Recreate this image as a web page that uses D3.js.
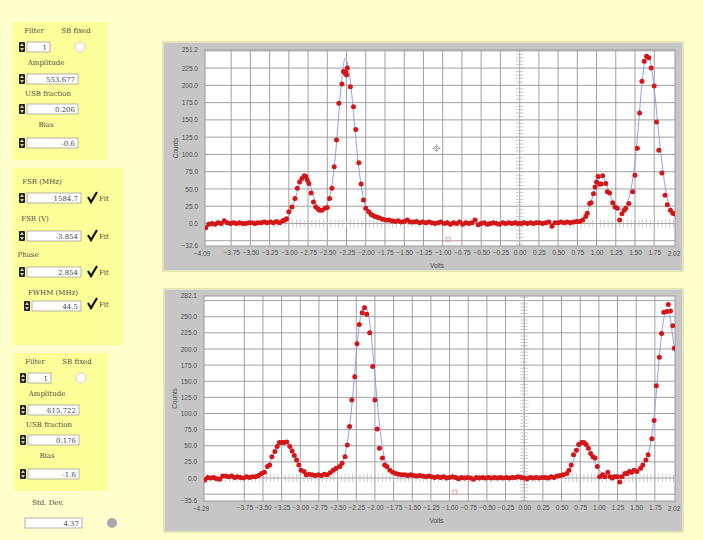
<!DOCTYPE html>
<html lang="en">

<head>
    <meta charset="UTF-8">
    <title>Cavity scan fit</title>

    <script src="https://cdn.jsdelivr.net/npm/d3@7"></script>

    <style>
        body {
            margin: 0;
            background: #ffffcc;
        }

        .wtxt {
            font-family: "DejaVu Serif", serif;
            font-size: 7px;
            fill: #4a4a4a;
        }

        .tick text,
        .edge {
            font-family: "Liberation Sans", sans-serif;
            font-size: 6.5px;
            fill: #505050;
        }
    </style>

</head>

<body>
    <svg width="703" height="540"></svg>

    <script>
        // ---- widget values (left panels) ----
        const peakLabels = ["Filter", "SB fixed", "Amplitude", "USB fraction", "Bias"];
        const peak1Values = ["1", "553.677", "0.206", "-0.6"];
        const peak2Values = ["1", "615.722", "0.176", "-1.6"];
        const cavityLabels = ["FSR (MHz)", "FSR (V)", "Phase", "FWHM (MHz)"];
        const cavityValues = ["1584.7", "-3.854", "2.854", "44.5"];
        const fitLabel = "Fit";
        const stdDevLabel = "Std. Dev.";
        const stdDevValue = "4.37";

        // ---- axes ----
        const topXRange = [-4.09, 2.02];
        const topYRange = [-32.6, 251.2];
        const bottomXRange = [-4.29, 2.02];
        const bottomYRange = [-35.6, 282.1];
        const xTickValues = [-3.75, -3.5, -3.25, -3.0, -2.75, -2.5, -2.25, -2.0, -1.75, -1.5, -1.25, -1.0,
            -0.75, -0.5, -0.25, 0.0, 0.25, 0.5, 0.75, 1.0, 1.25, 1.5, 1.75];
        const topYTicks = [0, 25, 50, 75, 100, 125, 150, 175, 200, 225];
        const bottomYTicks = [0, 25, 50, 75, 100, 125, 150, 175, 200, 225, 250];
        const yGridCounts = [-25, 0, 25, 50, 75, 100, 125, 150, 175, 200, 225, 250, 275];
        const xLabel = "Volts";
        const yLabel = "Counts";

        // ---- top scan: [volts, counts] ----
        const topScan = [
            [-4.08, -6], [-4.04, -1], [-4.00, 0], [-3.96, -1], [-3.92, 1], [-3.88, 0], [-3.84, 4], [-3.80, 1],
            [-3.76, 0], [-3.72, 1], [-3.68, 0], [-3.64, 1], [-3.60, 0], [-3.56, 0], [-3.52, 1], [-3.48, 1],
            [-3.44, 0], [-3.40, 1], [-3.36, 1], [-3.32, 2], [-3.28, 1], [-3.24, 2], [-3.20, 1], [-3.16, 3],
            [-3.12, 1], [-3.08, 4], [-3.05, 5], [-3.03, 7], [-3.00, 17], [-2.96, 24], [-2.92, 36], [-2.89, 51],
            [-2.86, 60], [-2.83, 65], [-2.80, 69], [-2.78, 68], [-2.76, 63], [-2.74, 58], [-2.71, 44], [-2.68, 31],
            [-2.65, 24], [-2.62, 21], [-2.60, 19], [-2.57, 19], [-2.53, 22], [-2.50, 23], [-2.47, 36], [-2.44, 51],
            [-2.41, 82], [-2.38, 121], [-2.35, 174], [-2.31, 202], [-2.29, 220], [-2.27, 218], [-2.26, 219],
            [-2.25, 215], [-2.24, 225], [-2.20, 198], [-2.16, 169], [-2.13, 136], [-2.09, 88], [-2.06, 57],
            [-2.03, 34], [-2.00, 22], [-1.96, 17], [-1.93, 13], [-1.91, 12], [-1.88, 10], [-1.85, 9],
            [-1.82, 8], [-1.78, 6], [-1.74, 5], [-1.70, 5], [-1.66, 4], [-1.62, 3], [-1.58, 4], [-1.54, 2],
            [-1.50, 3], [-1.46, 5], [-1.42, 2], [-1.38, 2], [-1.34, 3], [-1.30, 1], [-1.26, 2], [-1.22, 1],
            [-1.18, 2], [-1.14, 1], [-1.10, 0], [-1.06, 1], [-1.02, 2], [-0.98, 0], [-0.94, 1], [-0.90, -1],
            [-0.86, 1], [-0.82, 0], [-0.78, 2], [-0.74, -1], [-0.70, 1], [-0.66, 0], [-0.62, 1], [-0.58, 5],
            [-0.54, -2], [-0.50, 0], [-0.46, 1], [-0.42, -1], [-0.38, 0], [-0.34, 1], [-0.30, 0], [-0.26, -1],
            [-0.22, 1], [-0.18, 0], [-0.14, 1], [-0.10, 0], [-0.06, 1], [-0.02, 0], [0.02, 0], [0.06, 1],
            [0.10, 0], [0.14, 1], [0.18, 0], [0.22, 1], [0.26, 1], [0.30, 0], [0.34, 1], [0.38, 2], [0.42, -4],
            [0.46, 1], [0.50, 1], [0.54, 2], [0.58, 1], [0.62, 2], [0.66, 1], [0.70, 2], [0.74, 3], [0.78, 3],
            [0.82, 5], [0.86, 10], [0.88, 15], [0.91, 29], [0.93, 30], [0.96, 43], [0.98, 53], [1.00, 60],
            [1.02, 68], [1.04, 57], [1.06, 57], [1.08, 69], [1.12, 58], [1.14, 46], [1.17, 44], [1.21, 30],
            [1.24, 24], [1.27, 22], [1.30, 5], [1.33, 14], [1.36, 19], [1.38, 22], [1.42, 29], [1.47, 46],
            [1.50, 70], [1.53, 109], [1.56, 160], [1.59, 206], [1.62, 235], [1.65, 242], [1.68, 240],
            [1.71, 225], [1.75, 199], [1.78, 147], [1.81, 106], [1.85, 73], [1.89, 41], [1.92, 27],
            [1.96, 19], [1.99, 15], [2.01, 14]
        ];

        // ---- top fitted curve: [volts, counts] ----
        const topFit = [
            [-4.09, 0.5], [-3.3, 1], [-3.15, 2], [-3.05, 5], [-3.0, 11], [-2.95, 24], [-2.9, 43], [-2.85, 61],
            [-2.8, 70], [-2.75, 64], [-2.7, 47], [-2.65, 29], [-2.6, 20], [-2.56, 19], [-2.52, 24], [-2.48, 35],
            [-2.44, 56], [-2.4, 92], [-2.36, 145], [-2.32, 200], [-2.29, 230], [-2.27, 239], [-2.25, 236],
            [-2.22, 222], [-2.18, 185], [-2.14, 135], [-2.1, 90], [-2.06, 55], [-2.02, 32], [-1.98, 19],
            [-1.94, 12], [-1.88, 8], [-1.8, 5], [-1.6, 3], [-1.2, 1.5], [-0.6, 0.8], [0.2, 0.8], [0.6, 1.5],
            [0.72, 3], [0.8, 6], [0.85, 11], [0.9, 22], [0.95, 39], [1.0, 56], [1.05, 66], [1.08, 67],
            [1.12, 60], [1.16, 47], [1.2, 35], [1.25, 25], [1.3, 20], [1.34, 21], [1.38, 26], [1.42, 37],
            [1.46, 57], [1.5, 90], [1.54, 135], [1.58, 190], [1.62, 230], [1.66, 244], [1.69, 240],
            [1.72, 222], [1.76, 185], [1.8, 140], [1.84, 98], [1.88, 62], [1.92, 36], [1.96, 22], [2.02, 12]
        ];

        // ---- bottom scan: [volts, counts] ----
        const bottomScan = [
            [-4.28, -3], [-4.24, 1], [-4.20, 0], [-4.16, 1], [-4.12, -1], [-4.08, -2], [-4.04, 3], [-4.00, 3],
            [-3.96, 2], [-3.92, 3], [-3.88, 1], [-3.84, 2], [-3.80, 1], [-3.76, 0], [-3.72, 2], [-3.68, 1],
            [-3.64, 2], [-3.60, 2], [-3.56, 4], [-3.52, 7], [-3.48, 9], [-3.44, 18], [-3.41, 20], [-3.38, 33],
            [-3.34, 41], [-3.31, 49], [-3.28, 55], [-3.25, 55], [-3.22, 55], [-3.18, 56], [-3.14, 49],
            [-3.11, 42], [-3.08, 35], [-3.05, 28], [-3.02, 20], [-2.99, 12], [-2.95, 10], [-2.92, 5],
            [-2.88, 6], [-2.84, 5], [-2.80, 4], [-2.76, 5], [-2.72, 4], [-2.68, 6], [-2.64, 5], [-2.60, 8],
            [-2.56, 12], [-2.52, 15], [-2.47, 18], [-2.44, 23], [-2.40, 33], [-2.37, 51], [-2.34, 80],
            [-2.31, 121], [-2.27, 157], [-2.24, 208], [-2.21, 238], [-2.17, 256], [-2.14, 264], [-2.11, 254],
            [-2.07, 225], [-2.03, 173], [-2.00, 121], [-1.97, 76], [-1.94, 46], [-1.90, 31], [-1.87, 20],
            [-1.84, 18], [-1.80, 12], [-1.76, 9], [-1.72, 7], [-1.68, 6], [-1.64, 5], [-1.60, 5], [-1.56, 4],
            [-1.52, 5], [-1.48, 4], [-1.44, 3], [-1.40, 4], [-1.36, 3], [-1.32, 2], [-1.28, 3], [-1.24, 2],
            [-1.20, 1], [-1.16, 2], [-1.12, 1], [-1.08, 2], [-1.04, 0], [-1.00, 1], [-0.96, 2], [-0.92, 1],
            [-0.88, -1], [-0.84, 1], [-0.80, 0], [-0.76, 1], [-0.72, 0], [-0.68, -2], [-0.64, 1], [-0.60, 0],
            [-0.56, 1], [-0.52, 0], [-0.48, 1], [-0.44, 0], [-0.40, 1], [-0.36, 0], [-0.32, 1], [-0.28, 0],
            [-0.24, 1], [-0.20, 0], [-0.16, 1], [-0.12, 1], [-0.08, 2], [-0.04, 1], [0.00, 0], [0.04, -1],
            [0.08, 1], [0.12, 0], [0.16, 1], [0.20, 0], [0.24, 1], [0.28, 1], [0.32, 0], [0.36, 2], [0.40, 1],
            [0.44, 3], [0.48, 4], [0.52, 5], [0.57, 7], [0.60, 12], [0.63, 20], [0.66, 36], [0.70, 43],
            [0.73, 52], [0.77, 55], [0.80, 55], [0.83, 52], [0.86, 46], [0.89, 38], [0.92, 33], [0.95, 31],
            [0.98, 18], [1.01, 2], [1.05, 5], [1.08, 2], [1.12, 9], [1.15, 2], [1.18, 0], [1.21, 2],
            [1.25, 2], [1.28, -6], [1.31, 2], [1.35, 7], [1.38, 7], [1.41, 10], [1.44, 9], [1.47, 12],
            [1.51, 10], [1.56, 15], [1.59, 20], [1.63, 28], [1.66, 36], [1.71, 61], [1.74, 89], [1.77, 143],
            [1.81, 187], [1.84, 224], [1.87, 257], [1.91, 258], [1.93, 269], [1.96, 259], [1.99, 236],
            [2.01, 201]
        ];

        // ---- bottom fitted curve: [volts, counts] ----
        const bottomFit = [
            [-4.29, 0.5], [-3.8, 1], [-3.62, 2], [-3.56, 4], [-3.5, 8], [-3.45, 15], [-3.4, 26], [-3.35, 40],
            [-3.3, 50], [-3.25, 55], [-3.2, 56], [-3.15, 50], [-3.1, 40], [-3.05, 28], [-3.0, 17], [-2.95, 10],
            [-2.9, 6], [-2.8, 4.5], [-2.7, 5], [-2.6, 7], [-2.52, 12], [-2.46, 20], [-2.41, 34], [-2.36, 62],
            [-2.32, 100], [-2.28, 150], [-2.24, 205], [-2.2, 245], [-2.16, 264], [-2.13, 267], [-2.1, 260],
            [-2.06, 232], [-2.02, 185], [-1.98, 132], [-1.94, 84], [-1.9, 48], [-1.86, 26], [-1.82, 15],
            [-1.76, 9], [-1.6, 5], [-1.2, 3], [-0.6, 1.5], [0.2, 1.5], [0.45, 3], [0.52, 5], [0.57, 8],
            [0.62, 16], [0.67, 30], [0.72, 45], [0.77, 54], [0.81, 55], [0.85, 50], [0.9, 38], [0.95, 24],
            [1.0, 13], [1.05, 7], [1.15, 4.5], [1.3, 5], [1.45, 9], [1.55, 15], [1.62, 25], [1.67, 42],
            [1.72, 75], [1.76, 120], [1.8, 175], [1.84, 222], [1.88, 252], [1.92, 260], [1.96, 245],
            [2.0, 210], [2.02, 195]
        ];

        // cursor marks [volts, counts]
        const topCursor = [-1.08, 109];
        const topMarker = [-0.93, -23];
        const bottomMarker = [-0.93, -22];

        let svg = d3.select("svg");

        svg.append("rect").attr("width", 703).attr("height", 540).attr("fill", "#ffffcc");

        /////////////////// LEFT PANELS ///////////////////
        function panel(x, y, w, h) {
            svg.append("rect").attr("x", x).attr("y", y).attr("width", w).attr("height", h)
                .attr("fill", "#ffff99");
        }

        function label(x, y, t, anchor) {
            svg.append("text").attr("class", "wtxt").attr("x", x).attr("y", y)
                .attr("text-anchor", anchor || "middle").text(t);
        }

        function spinBox(x, cy, w, value, spinner) {
            if (spinner !== false) {
                svg.append("rect").attr("x", x - 8).attr("y", cy - 5).attr("width", 6).attr("height", 10)
                    .attr("rx", 1).attr("fill", "#222");
                svg.append("path")
                    .attr("d", `M${x - 7},${cy - 1}L${x - 5},${cy - 4}L${x - 3},${cy - 1}Z` +
                        `M${x - 7},${cy + 1}L${x - 5},${cy + 4}L${x - 3},${cy + 1}Z`)
                    .attr("fill", "#ccc");
            }
            svg.append("rect").attr("x", x).attr("y", cy - 5).attr("width", w).attr("height", 10)
                .attr("fill", "#fff").attr("stroke", "#a0a0a0").attr("stroke-width", 0.8);
            svg.append("text").attr("class", "wtxt").attr("x", x + w - 3).attr("y", cy + 2.5)
                .attr("text-anchor", "end").text(value);
        }

        function check(x, y) {
            svg.append("path").attr("d", `M${x - 4},${y - 1}L${x - 1},${y + 4}L${x + 5},${y - 6}`)
                .attr("fill", "none").attr("stroke", "#111").attr("stroke-width", 2.2);
            label(x + 7, y + 3, fitLabel, "start");
        }

        function peakPanel(x, y, values) {
            panel(x, y, 94, 138);
            label(x + 21, y + 11, peakLabels[0]);
            label(x + 63, y + 11, peakLabels[1]);
            spinBox(x + 14, y + 25, 23, values[0]);
            svg.append("circle").attr("cx", x + 67).attr("cy", y + 25).attr("r", 5)
                .attr("fill", "#fff").attr("stroke", "#d0d0d0");
            label(x + 33, y + 43, peakLabels[2]);
            spinBox(x + 14, y + 57, 51, values[1]);
            label(x + 35, y + 74, peakLabels[3]);
            spinBox(x + 14, y + 87, 51, values[2]);
            label(x + 33, y + 105, peakLabels[4]);
            spinBox(x + 14, y + 121, 51, values[3]);
        }

        peakPanel(13, 22, peak1Values);
        peakPanel(14, 353, peak2Values);

        // cavity panel
        panel(13, 168, 110, 177);
        const cavityRows = [{ lx: 42, ly: 184, bx: 27, by: 198 }, { lx: 35, ly: 221, bx: 27, by: 236 },
            { lx: 28, ly: 257, bx: 27, by: 272 }, { lx: 53, ly: 295, bx: 32, by: 306 }];
        cavityRows.forEach(function (r, i) {
            label(r.lx, r.ly, cavityLabels[i]);
            spinBox(r.bx, r.by, 54 - (r.bx - 27), cavityValues[i]);
            check(92, r.by - (i == 3 ? 2 : 0));
        });

        // std dev
        label(48, 505, stdDevLabel);
        spinBox(25, 523, 57, stdDevValue, false);
        svg.append("circle").attr("cx", 112).attr("cy", 523).attr("r", 5).attr("fill", "#a8a8a8");

        /////////////////// CHARTS ///////////////////
        const charts = [
            { frame: [163, 42, 520, 229], left: 205, right: 675, top: 50, bottom: 246,
              xDomain: topXRange, yDomain: topYRange, yTicks: topYTicks,
              scan: topScan, fit: topFit, cursor: topCursor, marker: topMarker },
            { frame: [164, 289, 519, 243], left: 204, right: 675, top: 296, bottom: 501,
              xDomain: bottomXRange, yDomain: bottomYRange, yTicks: bottomYTicks,
              scan: bottomScan, fit: bottomFit, cursor: null, marker: bottomMarker }
        ];

        charts.forEach(function (c, k) {
            let g = svg.append("g");
            g.append("rect").attr("x", c.frame[0]).attr("y", c.frame[1])
                .attr("width", c.frame[2]).attr("height", c.frame[3])
                .attr("fill", "#c6c6c6").attr("stroke", "#e4e4b8").attr("stroke-width", 2);

            let x = d3.scaleLinear().domain(c.xDomain).range([c.left, c.right]);
            let y = d3.scaleLinear().domain(c.yDomain).range([c.bottom, c.top]);

            g.append("rect").attr("x", c.left).attr("y", c.top)
                .attr("width", c.right - c.left).attr("height", c.bottom - c.top).attr("fill", "#fff");

            // grid
            g.append("g").selectAll("line").data(xTickValues).enter().append("line")
                .attr("x1", d => x(d)).attr("x2", d => x(d)).attr("y1", c.top).attr("y2", c.bottom)
                .attr("stroke", "#a0a0a0").attr("stroke-width", 1);
            g.append("g").selectAll("line")
                .data(yGridCounts.filter(d => d > c.yDomain[0] && d < c.yDomain[1])).enter().append("line")
                .attr("x1", c.left).attr("x2", c.right).attr("y1", d => y(d)).attr("y2", d => y(d))
                .attr("stroke", "#a0a0a0").attr("stroke-width", 1);

            // origin cross with minor ticks
            g.append("line").attr("x1", x(0)).attr("x2", x(0)).attr("y1", c.top).attr("y2", c.bottom)
                .attr("stroke", "#b8b8b8");
            g.append("g").selectAll("line").data(y.ticks(60)).enter().append("line")
                .attr("x1", x(0) - 4).attr("x2", x(0) + 4).attr("y1", d => y(d)).attr("y2", d => y(d))
                .attr("stroke", "#b8b8b8").attr("stroke-width", 0.7);
            g.append("g").selectAll("line").data(x.ticks(120)).enter().append("line")
                .attr("x1", d => x(d)).attr("x2", d => x(d)).attr("y1", y(0) - 4).attr("y2", y(0) + 4)
                .attr("stroke", "#b8b8b8").attr("stroke-width", 0.7);

            // plot border
            g.append("rect").attr("x", c.left).attr("y", c.top)
                .attr("width", c.right - c.left).attr("height", c.bottom - c.top)
                .attr("fill", "none").attr("stroke", "#9a9a9a");

            // axes labels
            let xa = g.append("g").attr("transform", `translate(0,${c.bottom})`)
                .call(d3.axisBottom(x).tickValues(xTickValues).tickSize(0).tickPadding(4)
                    .tickFormat(d3.format(".2f")));
            xa.select(".domain").remove();
            let ya = g.append("g").attr("transform", `translate(${c.left},0)`)
                .call(d3.axisLeft(y).tickValues(c.yTicks).tickSize(0).tickPadding(7)
                    .tickFormat(d3.format(".1f")));
            ya.select(".domain").remove();

            // edge values of the ranges
            g.append("text").attr("class", "edge").attr("x", x(c.xDomain[0]) - 3).attr("y", c.bottom + 10)
                .attr("text-anchor", "middle").text(d3.format(".2f")(c.xDomain[0]));
            g.append("text").attr("class", "edge").attr("x", x(c.xDomain[1]) - 1).attr("y", c.bottom + 10)
                .attr("text-anchor", "middle").text(d3.format(".2f")(c.xDomain[1]));
            g.append("text").attr("class", "edge").attr("x", c.left - 7).attr("y", y(c.yDomain[1]) + 2)
                .attr("text-anchor", "end").text(d3.format(".1f")(c.yDomain[1]));
            g.append("text").attr("class", "edge").attr("x", c.left - 7).attr("y", y(c.yDomain[0]) + 2)
                .attr("text-anchor", "end").text(d3.format(".1f")(c.yDomain[0]));

            g.append("text").attr("class", "edge").attr("x", (c.left + c.right) / 2 - 3)
                .attr("y", c.bottom + 22).attr("text-anchor", "middle").text(xLabel);
            g.append("text").attr("class", "edge")
                .attr("transform", `translate(${c.left - 27},${(c.top + c.bottom) / 2}) rotate(-90)`)
                .attr("text-anchor", "middle").text(yLabel);

            // clip
            svg.append("clipPath").attr("id", "clip" + k).append("rect")
                .attr("x", c.left).attr("y", c.top).attr("width", c.right - c.left).attr("height", c.bottom - c.top);
            let p = g.append("g").attr("clip-path", `url(#clip${k})`);

            // fitted line
            let line = d3.line().x(d => x(d[0])).y(d => y(d[1])).curve(d3.curveMonotoneX);
            p.append("path").attr("d", line(c.fit)).attr("fill", "none")
                .attr("stroke", "#8f9ff0").attr("stroke-width", 1);

            // scan points
            p.append("g").selectAll("circle").data(c.scan).enter().append("circle")
                .attr("cx", d => x(d[0])).attr("cy", d => y(d[1])).attr("r", 2.5)
                .attr("fill", "#d41616");

            // cursor marks
            if (c.cursor) {
                let cx = x(c.cursor[0]), cy = y(c.cursor[1]);
                p.append("path").attr("d", `M${cx - 3},${cy}L${cx},${cy - 3}L${cx + 3},${cy}L${cx},${cy + 3}Z`)
                    .attr("fill", "none").attr("stroke", "#9a9a9a");
                p.append("path").attr("d", `M${cx - 4},${cy}H${cx + 4}M${cx},${cy - 4}V${cy + 4}`)
                    .attr("stroke", "#9a9a9a").attr("stroke-width", 0.7);
            }
            p.append("rect").attr("x", x(c.marker[0]) - 2).attr("y", y(c.marker[1]) - 2)
                .attr("width", 4).attr("height", 4).attr("fill", "none").attr("stroke", "#f0a0a0");
        });
    </script>
</body>

</html>
